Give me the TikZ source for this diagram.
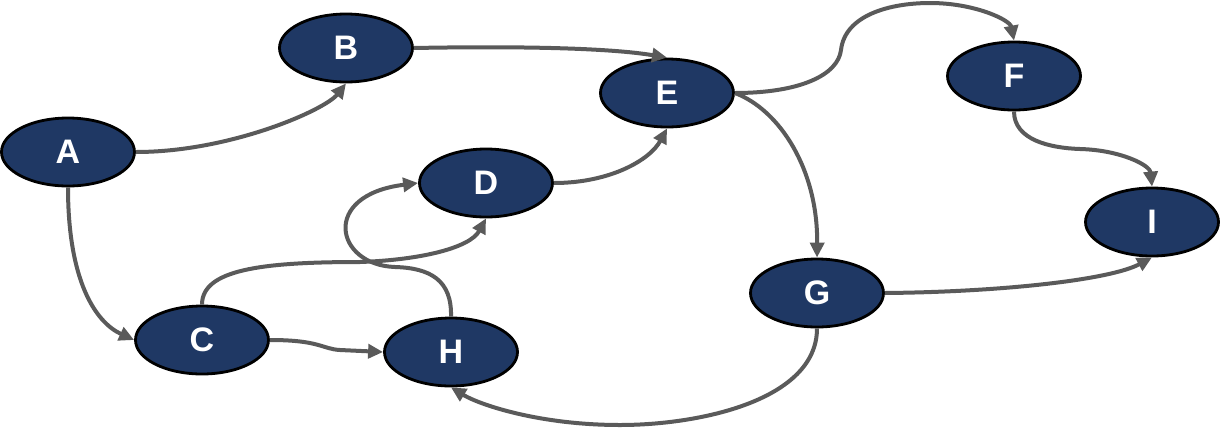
\documentclass[tikz,border=0pt]{standalone}
\usepackage{fontspec}
\setmainfont{Liberation Sans}
\usetikzlibrary{shapes.geometric,arrows.meta}
\definecolor{navy}{RGB}{31,56,100}
\definecolor{edgegray}{RGB}{90,90,90}
\begin{document}
\begin{tikzpicture}[x=1pt,y=-1pt,
  vtx/.style={ellipse,draw=black,line width=2.8pt,fill=navy,text=white,
    minimum width=133pt,minimum height=68pt,inner sep=0pt,
    font=\fontsize{34}{34}\selectfont\bfseries},
  link/.style={draw=edgegray,line width=4pt,
    -{Triangle[length=15pt,width=14pt]}}]
\useasboundingbox (0,0) rectangle (1221,429);
\node[vtx] (A) at (68,152) {A};
\node[vtx] (B) at (346,48) {B};
\node[vtx] (E) at (667,93) {E};
\node[vtx] (D) at (486,183) {D};
\node[vtx] (F) at (1014,76) {F};
\node[vtx] (I) at (1152,222) {I};
\node[vtx] (G) at (817,293) {G};
\node[vtx] (C) at (202,340) {C};
\node[vtx] (H) at (451,352) {H};

\draw[link] (A.east) .. controls (230,152) and (325,110) .. (B.south);
\draw[link] (A.south) .. controls (68,280) and (95,322) .. (C.west);
\draw[link] (B.east) .. controls (520,46) and (610,48) .. (E.north);
\draw[link] (D.east) .. controls (610,183) and (650,160) .. (E.south);
\draw[link] (C.north) .. controls (202,270) and (260,262) .. (360,262)
  .. controls (420,260) and (470,248) .. (D.south);
\draw[link] (H.north) .. controls (452,280) and (430,268) .. (395,267)
  .. controls (335,265) and (320,195) .. (D.west);
\draw[link] (C.east) .. controls (320,340) and (322,349) .. (340,350) -- (H.west);
\draw[link] (E.east) .. controls (800,93) and (838,75) .. (841,50)
  .. controls (845,15) and (890,3) .. (930,3)
  .. controls (975,3) and (1010,20) .. (F.north);
\draw[link] (E.east) .. controls (780,110) and (818,170) .. (G.north);
\draw[link] (F.south) .. controls (1014,140) and (1050,148) .. (1080,149)
  .. controls (1120,150) and (1150,165) .. (I.north);
\draw[link] (G.east) .. controls (1000,292) and (1110,280) .. (I.south);
\draw[link] (G.south) .. controls (817,400) and (700,425) .. (620,425)
  .. controls (540,425) and (480,405) .. (H.south);
\end{tikzpicture}
\end{document}
